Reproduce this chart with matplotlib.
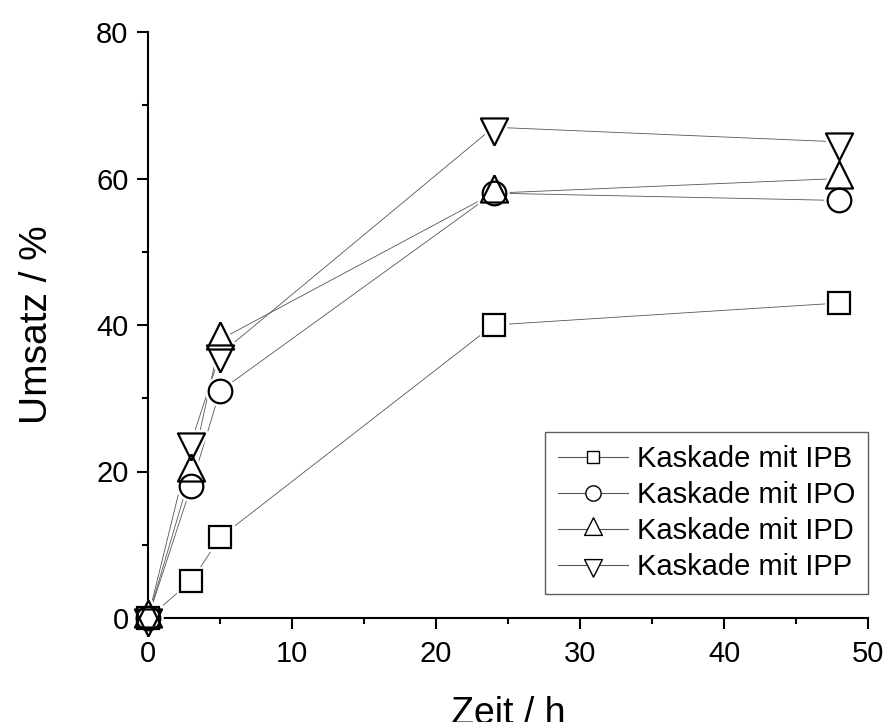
import matplotlib
matplotlib.use("Agg")
import matplotlib.pyplot as plt
from matplotlib.lines import Line2D

plt.rcParams['font.family'] = ['Liberation Sans', 'DejaVu Sans']

zeit = [0, 3, 5, 24, 48]
ipb = [0, 5, 11, 40, 43]
ipo = [0, 18, 31, 58, 57]
ipd = [0, 20, 38, 58, 60]
ipp = [0, 24, 36, 67, 65]
labels = ["Kaskade mit IPB", "Kaskade mit IPO", "Kaskade mit IPD", "Kaskade mit IPP"]

tri_up = [(0, 2/3), (-0.5, -1/3), (0.5, -1/3), (0, 2/3)]
tri_dn = [(0, -2/3), (-0.5, 1/3), (0.5, 1/3), (0, -2/3)]

series = [
    (ipb, 's', 15.5),
    (ipo, 'o', 17),
    (ipd, tri_up, 26),
    (ipp, tri_dn, 26),
]

fig = plt.figure(figsize=(8.88, 7.22), dpi=100)
ax = fig.add_axes([148/888, 1-618/722, 720/888, 586/722])

for y, m, ms in series:
    ax.plot(zeit, y, '-', color='#555555', lw=0.6, zorder=2, clip_on=False)
for y, m, ms in series:
    ax.plot(zeit, y, ls='none', marker=m, ms=ms, mfc='white', mec='white',
            mew=5, zorder=4, clip_on=False)
for y, m, ms in series:
    ax.plot(zeit, y, ls='none', marker=m, ms=ms, mfc='none', mec='black',
            mew=1.6, zorder=5, clip_on=False)

ax.set_xlim(0, 50)
ax.set_ylim(0, 80)
ax.set_xticks([0, 10, 20, 30, 40, 50])
ax.set_xticks([5, 15, 25, 35, 45], minor=True)
ax.set_yticks([0, 20, 40, 60, 80])
ax.set_yticks([10, 30, 50, 70], minor=True)
for s in ['top', 'right']:
    ax.spines[s].set_visible(False)
for s in ['left', 'bottom']:
    ax.spines[s].set_linewidth(1.5)
ax.tick_params(which='major', direction='out', length=8, width=1.5, labelsize=21, pad=6)
ax.tick_params(which='minor', direction='out', length=4.5, width=1.5)
ax.tick_params(axis='x', which='major', pad=8)

ax.set_xlabel('Zeit / h', fontsize=27, labelpad=20)
ax.set_ylabel('Umsatz / %', fontsize=28, labelpad=30)

leg_ms = [8, 11, 17, 17]
handles = []
for (y, m, ms), lms, lab in zip(series, leg_ms, labels):
    handles.append(Line2D([], [], color='#555555', lw=0.8, marker=m, ms=lms,
                          mfc='white', mec='black', mew=1.0, label=lab))
leg = fig.legend(handles=handles, loc='lower right',
                 bbox_to_anchor=(868/888, 1-594/722), borderaxespad=0,
                 fontsize=21, frameon=True, fancybox=False, edgecolor='#333333',
                 labelspacing=0.27, handlelength=2.4, handletextpad=0.3,
                 borderpad=0.45)
leg.get_frame().set_linewidth(1.0)
leg.set_zorder(10)

fig.savefig('out.png', dpi=100)
